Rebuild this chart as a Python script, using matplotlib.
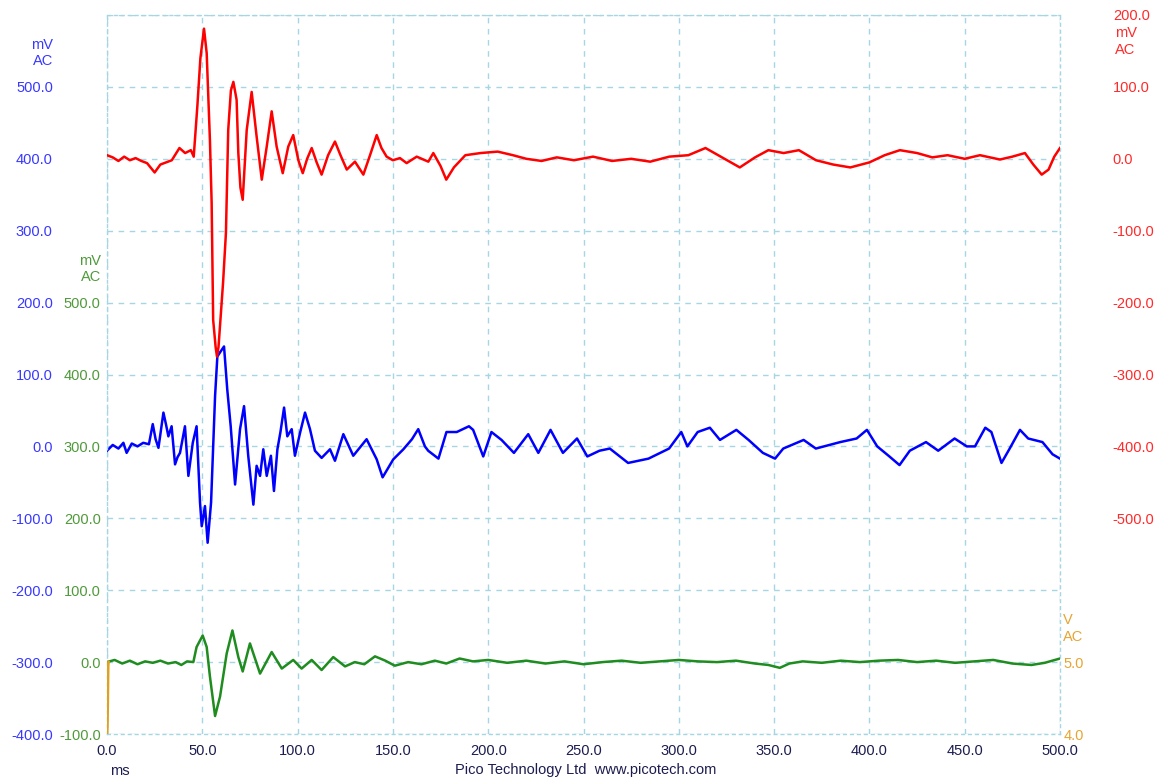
import matplotlib
matplotlib.use("Agg")
import matplotlib.pyplot as plt

plt.rcParams['font.family'] = ['Liberation Sans', 'DejaVu Sans']

# channel A (red, right scale), mV
red_t = [0, 3, 6, 9, 12, 15, 18, 21, 25, 28, 31, 34, 38, 41, 44, 45.5, 47.4, 49,
         50.9, 52.3, 54, 54.9, 55.7, 57, 57.7, 58.5, 60.9, 62.4, 63.6, 65, 66.3,
         68, 68.9, 70, 71.2, 73.3, 75.9, 78.5, 81.2, 83.8, 86.4, 89, 92.2, 95.1,
         97.7, 100.4, 102.7, 105, 107.4, 110, 112.6, 116, 119.6, 122.5, 125.8,
         130.1, 134.5, 138, 141.5, 144, 146.7, 150, 153.7, 157.2, 162.5, 168.6,
         171.2, 175, 178, 182, 188, 196, 205, 213, 220, 228, 236, 245, 255, 265,
         275, 285, 295, 305, 314, 322, 332, 340, 347, 355, 363, 372, 381, 390,
         400, 408, 416, 425, 433, 441, 450, 458, 468.5, 475, 481.6, 486, 490.4,
         494, 497, 500]
red_v = [5, 2, -3, 3, -2, 1, -3, -6, -19, -8, -5, -2, 15, 8, 12, 3, 73, 140,
         181, 147, 26, -61, -224, -262, -275, -262, -172, -103, 40, 95, 107,
         82, 8, -40, -57, 40, 93, 31, -29, 17, 66, 17, -20, 17,
         33, -2, -20, 0, 15, -5, -22, 5, 24, 5, -15,
         -4, -22, 5, 33, 15, 3, -2, 1, -6, 3, -4,
         8, -10, -29, -12, 5, 8, 10, 5, 0, -3, 2, -2, 3, -3,
         0, -4, 3, 5, 15, 3, -12, 2, 12, 8, 12, -2, -8, -12,
         -5, 5, 12, 8, 2, 5, 0, 5, -1, 3, 8, -8, -22,
         -15, 3, 15]

# channel B (blue, left scale), mV
blue_t = [0, 3, 6, 8.6, 10.3, 13, 16, 19, 22, 24, 25.5, 27, 29.6, 31, 32.2, 33.9,
          35.7, 37, 38.3, 40.9, 42.7, 45, 47, 48.8, 49.7, 51.4, 52.8, 54.6,
          56.7, 57.9, 59.6, 61.4, 63.1, 64.9, 67.2, 69.8, 71.9, 74.1, 76.8,
          78.5, 80.3, 82, 83.8, 86, 87.6, 89.4, 91, 92.9, 94.6, 96.9, 98.6,
          101.3, 103.9, 106.5, 109.1, 112.6, 117, 119.6, 124, 129.2, 136.2,
          141.5, 144.6, 150.2, 155.5, 160, 163.3, 166.8, 168.5, 173.9, 178.1,
          183.5, 189.9, 192.1, 197.4, 201.7, 207, 213.5, 221, 226.3, 232.7,
          239.2, 246.6, 252, 258.4, 263.8, 273.4, 284.1, 294.9, 301.3, 304.5,
          309.9, 316.3, 321.6, 330.2, 336.6, 344.1, 350.5, 354.8, 365.5, 371.9,
          384.7, 393.3, 398.7, 404.1, 410.5, 415.8, 421.2, 429.7, 436.1, 444.7,
          451.1, 455.4, 460.8, 464, 469.3, 473.6, 479, 483.3, 490.8, 496.1, 500]
blue_v = [-6, 2, -3, 5, -9, 4, 0, 5, 3, 31, 10, -2, 47, 30, 14, 28,
          -25, -15, -9, 28, -41, 5, 28, -78, -111, -83, -134, -78,
          70, 125, 132, 139, 79, 28, -53, 24, 56, -13, -81,
          -27, -41, -4, -41, -13, -62, -4, 20, 54, 14, 24, -13,
          19, 47, 24, -6, -16, -4, -20, 17, -13, 10,
          -18, -43, -18, -4, 10, 24, 0, -6, -17, 20,
          20, 28, 23, -14, 20, 9, -9, 17, -9, 23,
          -9, 11, -14, -6, -3, -23, -17, -3, 20, 0,
          20, 26, 9, 23, 9, -9, -17, -3, 9, -3,
          6, 11, 23, 0, -14, -26, -6, 6, -6, 11,
          0, 0, 26, 20, -23, -3, 23, 11, 6, -11, -17]

# channel C (green, inner left scale), mV
green_t = [0, 4, 8, 12, 16, 20, 24, 28, 32, 36, 39, 42, 45.3, 47, 50.2, 52.3,
           54, 56.7, 59.3, 62.8, 65.8, 68.9, 71.2, 75, 80.3, 86.4, 91.7, 97.7,
           102.1, 107.4, 112.6, 118.7, 124.9, 130, 135, 140.6, 146, 151, 158,
           165, 172, 178, 185, 192, 200, 210, 220, 230, 240, 250, 260, 270,
           280, 290, 300, 310, 320, 330, 340, 347, 353, 358, 365, 375, 385,
           395, 405, 415, 425, 435, 445, 455, 465, 475, 485, 492, 500]
green_v = [0, 3, -2, 2, -3, 1, -1, 2, -2, 0, -4, 1, 0, 21, 37, 21,
           -20, -75, -48, 12, 44, 7, -13, 26, -16, 14, -9, 3,
           -9, 3, -11, 7, -6, 0, -3, 8, 2, -5, 0,
           -3, 2, -2, 5, 1, 3, -1, 2, -2, 1, -3, 0, 2,
           -1, 1, 3, 1, 0, 2, -2, -4, -8, -2, 1, -1, 2,
           0, 2, 3, 0, 2, -1, 1, 3, -2, -4, -1, 5]

# channel D (orange, inner right scale), V
orange_t = [0, 0.2, 0.4, 0.6, 0.8]
orange_v = [4.0, 4.1, 4.5, 4.95, 5.0]

x_ticks = list(range(0, 501, 50))
blue_ticks = list(range(-400, 601, 100))
green_ticks = list(range(-100, 501, 100))
red_ticks = list(range(-500, 201, 100))
orange_ticks = [4.0, 5.0]

c_blue, c_green, c_red, c_orange = '#0000ff', '#1e8c1e', '#ff0000', '#e0a020'
l_blue, l_green, l_red, l_orange = '#3838ff', '#4f9a3a', '#ff2a2a', '#e6a532'
grid_c = '#a6d6e2'
fs = 10.5
lw = 1.8

fig = plt.figure(figsize=(11.68, 7.82), dpi=100)
ax = fig.add_axes([107 / 1168, 48 / 782, 953 / 1168, 719 / 782])

ax.set_xlim(0, 500)
ax.set_ylim(-400, 600)
ax.set_xticks(x_ticks)
ax.set_xticklabels(['%.1f' % v for v in x_ticks], color='#1c1c50', fontsize=fs)
ax.set_yticks(blue_ticks)
ax.set_yticklabels(['%.1f' % v if v < 600 else '' for v in blue_ticks],
                   color=l_blue, fontsize=fs)
ax.tick_params(axis='y', length=0, pad=39)
ax.tick_params(axis='x', length=0, pad=7)
ax.grid(True, color=grid_c, linestyle=(0, (4, 4)), linewidth=1)
for s in ax.spines.values():
    s.set_color(grid_c)
    s.set_linestyle((0, (2, 3)))
    s.set_linewidth(1)
ax.plot(blue_t, blue_v, color=c_blue, lw=lw)

ax_g = ax.twinx()
ax_g.yaxis.tick_left()
ax_g.set_ylim(-100, 900)
ax_g.set_yticks(green_ticks)
ax_g.set_yticklabels(['%.1f' % v for v in green_ticks], color=l_green, fontsize=fs)
ax_g.tick_params(axis='y', length=0, pad=4.5)
for s in ax_g.spines.values():
    s.set_visible(False)

ax_o = ax.twinx()
ax_o.set_ylim(4, 14)
ax_o.set_yticks(orange_ticks)
ax_o.set_yticklabels(['%.1f' % v for v in orange_ticks], color=l_orange, fontsize=fs)
ax_o.tick_params(axis='y', length=0, pad=2.4)
for s in ax_o.spines.values():
    s.set_visible(False)
ax_o.plot(orange_t, orange_v, color=c_orange, lw=2)

ax_g.plot(green_t, green_v, color=c_green, lw=lw)

ax_r = ax.twinx()
ax_r.set_ylim(-800, 200)
ax_r.set_yticks(red_ticks)
ax_r.set_yticklabels(['%.1f' % v for v in red_ticks], color=l_red, fontsize=fs)
ax_r.tick_params(axis='y', length=0, pad=38)
for s in ax_r.spines.values():
    s.set_visible(False)
ax_r.plot(red_t, red_v, color=c_red, lw=lw)

# unit labels
def unit(x, y, txt, col, ha):
    fig.text(x / 1168, 1 - y / 782, txt, color=col, fontsize=fs, ha=ha, va='center')

unit(53, 45, 'mV', l_blue, 'right')
unit(53, 61, 'AC', l_blue, 'right')
unit(101, 261, 'mV', l_green, 'right')
unit(101, 277, 'AC', l_green, 'right')
unit(1115, 33, 'mV', l_red, 'left')
unit(1115, 50, 'AC', l_red, 'left')
unit(1063, 620, 'V', l_orange, 'left')
unit(1063, 637, 'AC', l_orange, 'left')
unit(110, 771, 'ms', '#1c1c50', 'left')
unit(586, 770, 'Pico Technology Ltd  www.picotech.com', '#1c1c50', 'center')

fig.savefig('out.png', dpi=100)
